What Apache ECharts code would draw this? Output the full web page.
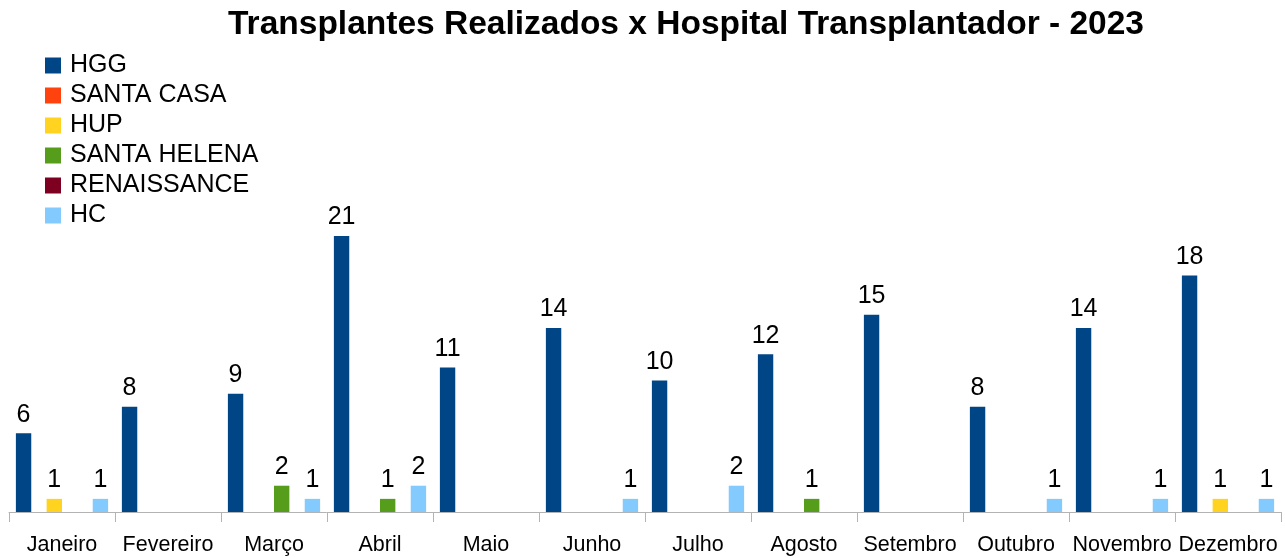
<!DOCTYPE html>
<html>
<head>
<meta charset="utf-8">
<script src="https://cdn.jsdelivr.net/npm/echarts@6/dist/echarts.min.js"></script>
<style>
  html, body { margin: 0; padding: 0; background: #fff; }
  .main { width: 1285px; height: 558px; }
</style>
</head>
<body>
<div class="main" id="main"></div>
<script>
var months = ['Janeiro','Fevereiro','Março','Abril','Maio','Junho','Julho','Agosto','Setembro','Outubro','Novembro','Dezembro'];
// null = no transplant that month (no bar, no label)
var hgg         = [6, 8, 9, 21, 11, 14, 10, 12, 15, 8, 14, 18];
var santaCasa   = [null, null, null, null, null, null, null, null, null, null, null, null];
var hup         = [1, null, null, null, null, null, null, null, null, null, null, 1];
var santaHelena = [null, null, 2, 1, null, null, null, 1, null, null, null, null];
var renaissance = [null, null, null, null, null, null, null, null, null, null, null, null];
var hc          = [1, null, 1, 2, null, 1, 2, null, null, 1, 1, 1];

var names  = ['HGG','SANTA CASA','HUP','SANTA HELENA','RENAISSANCE','HC'];
var values = [hgg, santaCasa, hup, santaHelena, renaissance, hc];
var colors = ['#004586','#ff420e','#ffd320','#579d1c','#7e0021','#83caff'];

var myChart = echarts.init(document.getElementById('main'));

var series = names.map(function(n, i){
  return {
    name: n,
    type: 'bar',
    data: values[i],
    barGap: '0%',
    barCategoryGap: '13%',
    itemStyle: { color: colors[i] },
    label: {
      show: true,
      position: 'top',
      distance: 6,
      color: '#000',
      fontSize: 25,
      fontFamily: 'Liberation Sans'
    }
  };
});

var option = {
  animation: false,
  title: {
    text: 'Transplantes Realizados x Hospital Transplantador - 2023',
    left: 223,
    top: 3,
    textStyle: { fontFamily: 'Liberation Sans', fontWeight: 'bold', fontSize: 33.5, color: '#000' }
  },
  legend: {
    orient: 'vertical',
    left: 45,
    top: 53,
    padding: 0,
    itemWidth: 16,
    itemHeight: 16,
    itemGap: 5,
    icon: 'rect',
    data: names,
    textStyle: { fontFamily: 'Liberation Sans', fontSize: 25, color: '#000', padding: [0, 0, 0, 4] }
  },
  grid: { left: 9, right: 4, top: 236, bottom: 46, containLabel: false },
  xAxis: {
    type: 'category',
    data: months,
    axisLine: { lineStyle: { color: '#b3b3b3' } },
    axisTick: { show: true, length: 10, lineStyle: { color: '#b3b3b3' } },
    axisLabel: { color: '#000', fontSize: 21.5, fontFamily: 'Liberation Sans', margin: 22, interval: 0 }
  },
  yAxis: {
    type: 'value',
    min: 0,
    max: 21,
    show: false,
    splitLine: { show: false }
  },
  series: series
};
myChart.setOption(option);
</script>
</body>
</html>
